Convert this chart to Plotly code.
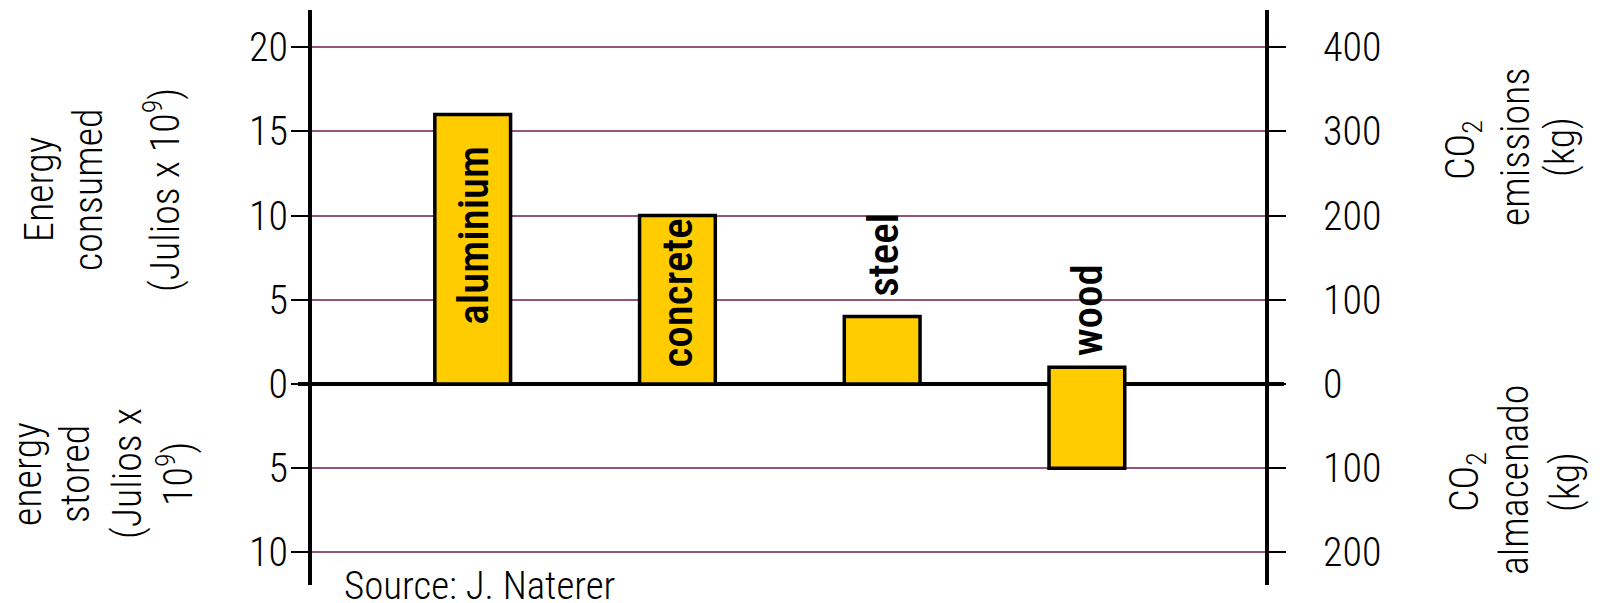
import plotly.graph_objects as go

materials = ["aluminium", "concrete", "steel", "wood"]
bar_top = [16, 10, 4, 1]          # energy consumed (Julios x 10^9)
bar_base = [0, 0, 0, -5]          # wood stores energy below zero
left_ticks = [-10, -5, 0, 5, 10, 15, 20]
left_ticktext = ["10", "5", "0", "5", "10", "15", "20"]
right_ticks = [-200, -100, 0, 100, 200, 300, 400]
right_ticktext = ["200", "100", "0", "100", "200", "300", "400"]
co2_per_energy = 20  # right axis scale factor

FONT = "Roboto Condensed, DejaVu Sans Condensed, sans-serif"
GRID = "#93557A"
OFF = 8  # page body margin

W, H = 1600, 603
L, R = 312 - OFF, 1265 - OFF
T, B = 10 - OFF, 585 - OFF


def px_x(x):
    return (x - OFF - L) / (R - L)


def px_y(y):
    return (B - (y - OFF)) / (B - T)


fig = go.Figure()
fig.add_trace(go.Bar(
    x=materials,
    y=[t - b for t, b in zip(bar_top, bar_base)],
    base=bar_base,
    width=0.37,
    marker=dict(color="#FFCC00", line=dict(color="black", width=3.5)),
    hoverinfo="skip",
    showlegend=False,
))
# invisible trace for right axis
fig.add_trace(go.Scatter(x=[materials[0]], y=[0], yaxis="y2", mode="markers",
                         marker=dict(opacity=0), showlegend=False, hoverinfo="skip"))

yr = [-11.93, 22.2]
fig.update_layout(
    width=W, height=H,
    margin=dict(l=L, r=W - R, t=T, b=H - B),
    plot_bgcolor="white", paper_bgcolor="white",
    font=dict(family=FONT, size=40, color="black", weight=300),
    xaxis=dict(
        range=[-0.785, 3.87], showticklabels=False, ticks="",
        showgrid=False, zeroline=False, showline=False,
    ),
    yaxis=dict(
        range=yr, tickvals=left_ticks, ticktext=left_ticktext,
        ticks="outside", ticklen=17, tickwidth=2, tickcolor="black",
        showgrid=True, gridcolor=GRID, gridwidth=2,
        zeroline=True, zerolinecolor="black", zerolinewidth=4,
        showline=True, linecolor="black", linewidth=4,
        tickfont=dict(size=40, weight=300), ticklabelstandoff=-5,
    ),
    yaxis2=dict(
        overlaying="y", side="right",
        range=[v * co2_per_energy for v in yr],
        tickvals=right_ticks, ticktext=right_ticktext,
        ticks="outside", ticklen=17, tickwidth=2, tickcolor="black",
        showgrid=False, zeroline=False,
        showline=True, linecolor="black", linewidth=4,
        tickfont=dict(size=40, weight=300), ticklabelstandoff=29,
    ),
)

# thick zero tick marks beyond axes
fig.add_shape(type="line", xref="paper", yref="y", x0=px_x(298), x1=px_x(1284), y0=0, y1=0,
              line=dict(color="black", width=4), layer="below")

# bar labels
label_shift = [-29, -1, 18, 9]
for m, t, s in zip(materials, bar_top, label_shift):
    fig.add_annotation(
        x=m, y=t, xref="x", yref="y", text=m, textangle=-90, showarrow=False,
        yanchor="top" if s < 0 else "bottom", yshift=s, xanchor="center",
        font=dict(size=43, family=FONT, weight=500),
    )

titles = [
    ("Energy", 40, 190),
    ("consumed", 89, 190),
    ("(Julios x 10<sup>9</sup>)", 163, 190),
    ("energy", 27, 474),
    ("stored", 75, 474),
    ("(Julios x", 127, 474),
    ("10<sup>9</sup>)", 175, 474),
    ("CO<sub>2</sub>", 1463, 150),
    ("emissions", 1515, 147),
    ("(kg)", 1560, 147),
    ("CO<sub>2</sub>", 1467, 482),
    ("almacenado", 1515, 480),
    ("(kg)", 1565, 482),
]
for txt, cx, cy in titles:
    fig.add_annotation(x=px_x(cx), y=px_y(cy), xref="paper", yref="paper", text=txt,
                       textangle=-90, showarrow=False, xanchor="center", yanchor="middle",
                       font=dict(size=40, weight=300))

fig.add_annotation(x=px_x(342), y=px_y(586), xref="paper", yref="paper",
                   text="Source: J. Naterer", showarrow=False,
                   xanchor="left", yanchor="middle", font=dict(size=39, weight=300))

fig.write_html("out.html")
